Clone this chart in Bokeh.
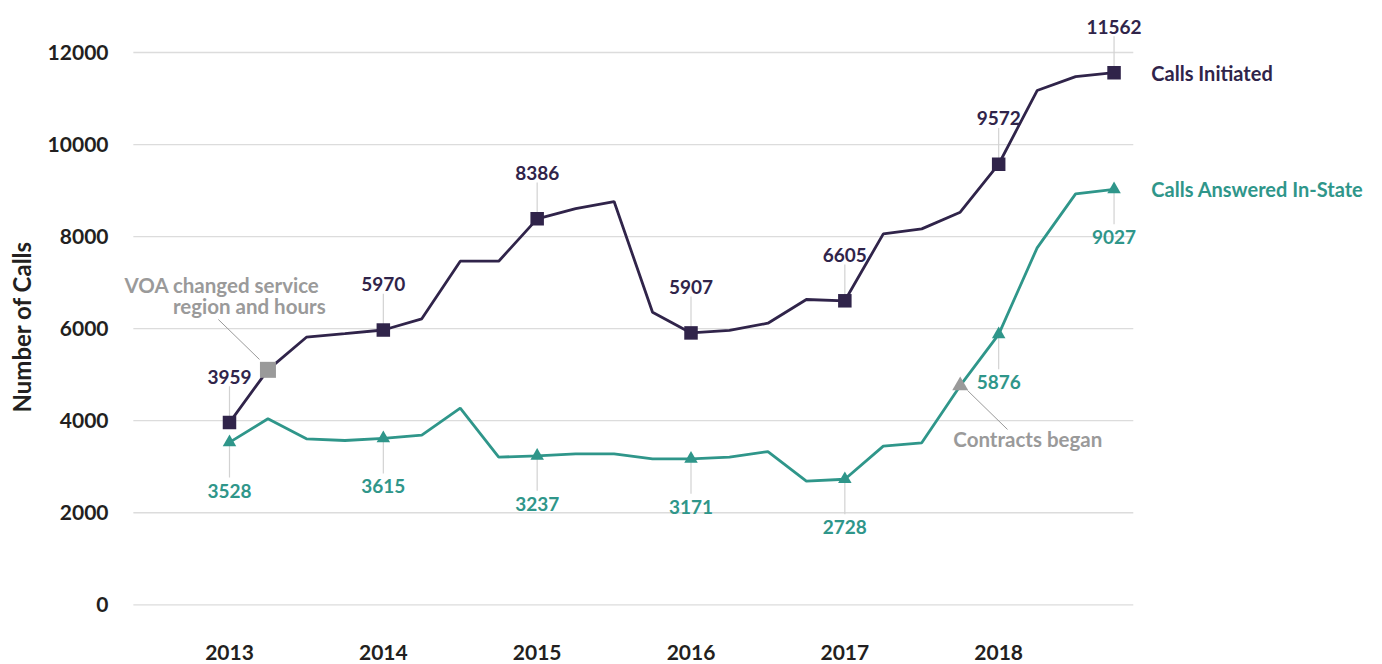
from bokeh.plotting import figure
from bokeh.models import Range1d, FixedTicker, Label, Title
from bokeh.core.properties import value
from bokeh.embed import file_html
from bokeh.resources import INLINE

# ---------------- data ----------------
quarter_index = list(range(24))
year_ticks = [0, 4, 8, 12, 16, 20]
year_labels = ["2013", "2014", "2015", "2016", "2017", "2018"]
y_ticks = [0, 2000, 4000, 6000, 8000, 10000, 12000]

calls_initiated = [3959, 5105, 5814, 5890, 5970, 6213, 7465, 7465, 8386, 8609,
                   8762, 6357, 5907, 5960, 6118, 6633, 6605, 8060, 8168, 8530,
                   9572, 11173, 11477, 11562]
calls_answered = [3528, 4041, 3606, 3569, 3615, 3685, 4271, 3207, 3237, 3280,
                  3280, 3172, 3171, 3207, 3330, 2686, 2728, 3446, 3519, 4760,
                  5876, 7756, 8929, 9027]

labeled_idx = [0, 4, 8, 12, 16, 20, 23]
voa_idx = 1          # "VOA changed service region and hours" on Calls Initiated
contracts_idx = 19   # "Contracts began" on Calls Answered

series_names = ["Calls Initiated", "Calls Answered In-State"]
y_title = "Number of Calls"

# ---------------- style ----------------
PURPLE = "#30244a"
TEAL = "#2f968a"
GREY = "#9a9a9a"
LEAD = "#d2d2d2"
DARK = "#231f20"
FONT = value("Lato")

X0, X_GRID_START, X_GRID_END, X1 = -2.938, -2.5, 23.5, 29.98

p = figure(width=1382, height=664,
           x_range=Range1d(X0, X1), y_range=Range1d(-385, 13021),
           output_backend="svg", toolbar_location=None,
           min_border_left=116, min_border_right=0,
           min_border_top=5, min_border_bottom=42)
p.outline_line_color = None
p.background_fill_color = "white"
p.border_fill_color = "white"

p.xgrid.grid_line_color = None
p.ygrid.grid_line_color = None
p.yaxis.ticker = FixedTicker(ticks=y_ticks)
p.xaxis.ticker = FixedTicker(ticks=year_ticks)
p.xaxis.major_label_overrides = {t: l for t, l in zip(year_ticks, year_labels)}
p.yaxis.major_label_overrides = {t: str(t) for t in y_ticks}

for ax in (p.xaxis, p.yaxis):
    ax.axis_line_color = None
    ax.major_tick_line_color = None
    ax.minor_tick_line_color = None
    ax.major_tick_out = 0
    ax.major_tick_in = 0
    ax.minor_tick_out = 0
    ax.minor_tick_in = 0
    ax.major_label_text_font = "Lato"
    ax.major_label_text_font_style = "bold"
    ax.major_label_text_font_size = "21px"
    ax.major_label_text_color = DARK
p.yaxis.major_label_standoff = 8
p.xaxis.major_label_standoff = 22

# y axis title (vertical, left)
p.add_layout(Title(text=y_title, align="left", vertical_align="top", offset=210,
                   text_font="Lato", text_font_style="bold", text_font_size="24px",
                   text_color=DARK, standoff=13), "left")

# horizontal gridlines (limited to the data area)
p.segment(x0=[X_GRID_START] * len(y_ticks), y0=y_ticks,
          x1=[X_GRID_END] * len(y_ticks), y1=y_ticks,
          line_color="#dcdcdc", line_width=1.3)

# leader lines for value labels
li_x = [quarter_index[i] for i in labeled_idx]
li_y = [calls_initiated[i] for i in labeled_idx]
la_y = [calls_answered[i] for i in labeled_idx]
p.segment(x0=li_x, y0=li_y, x1=li_x, y1=[v + 790 for v in li_y],
          line_color=LEAD, line_width=1.2)
p.segment(x0=li_x, y0=la_y, x1=li_x, y1=[v - 760 for v in la_y],
          line_color=LEAD, line_width=1.2)

# annotation leader lines
vx, vy = quarter_index[voa_idx], calls_initiated[voa_idx]
p.segment(x0=[vx - 1.29], y0=[vy + 1094], x1=[vx - 0.22], y1=[vy + 225],
          line_color=GREY, line_width=1)
cx, cy = quarter_index[contracts_idx], calls_answered[contracts_idx]
p.segment(x0=[cx + 0.19], y0=[cy - 104], x1=[cx + 1.23], y1=[cy - 951],
          line_color=GREY, line_width=1)

# lines
p.line(quarter_index, calls_initiated, line_color=PURPLE, line_width=2.8)
p.line(quarter_index, calls_answered, line_color=TEAL, line_width=2.8)

# markers
p.scatter(li_x, li_y, marker="square", size=13.5, fill_color=PURPLE, line_color=None)
p.scatter(li_x, la_y, marker="triangle", size=13.5, fill_color=TEAL, line_color=None)
p.scatter([vx], [vy], marker="square", size=16, fill_color=GREY, line_color=None)
p.scatter([cx], [cy], marker="triangle", size=16, fill_color=GREY, line_color=None)

# value labels
p.text(x=li_x, y=[v + 1000 for v in li_y], text=[str(v) for v in li_y],
       text_font=FONT, text_font_style="bold", text_font_size="19px",
       text_align="center", text_baseline="middle", text_color=PURPLE)
p.text(x=li_x, y=[v - 1045 for v in la_y], text=[str(v) for v in la_y],
       text_font=FONT, text_font_style="bold", text_font_size="19px",
       text_align="center", text_baseline="middle", text_color=TEAL)

# annotation texts
ann_kw = dict(text_font=FONT, text_font_style="bold", text_font_size="20.5px",
              text_baseline="middle", text_color=GREY)
p.text(x=[vx + 1.34], y=[vy + 1850], text=["VOA changed service"], text_align="right", **ann_kw)
p.text(x=[vx + 1.50], y=[vy + 1390], text=["region and hours"], text_align="right", **ann_kw)
p.text(x=[cx - 0.18], y=[cy - 1168], text=["Contracts began"], text_align="left", **ann_kw)

# series names
p.add_layout(Label(x=quarter_index[-1] + 0.97, y=calls_initiated[-1], text=series_names[0],
                   text_font="Lato", text_font_style="bold", text_font_size="20px",
                   text_align="left", text_baseline="middle", text_color=PURPLE))
p.add_layout(Label(x=quarter_index[-1] + 0.97, y=calls_answered[-1], text=series_names[1],
                   text_font="Lato", text_font_style="bold", text_font_size="20px",
                   text_align="left", text_baseline="middle", text_color=TEAL))

open("out.html", "w").write(file_html(p, INLINE))
